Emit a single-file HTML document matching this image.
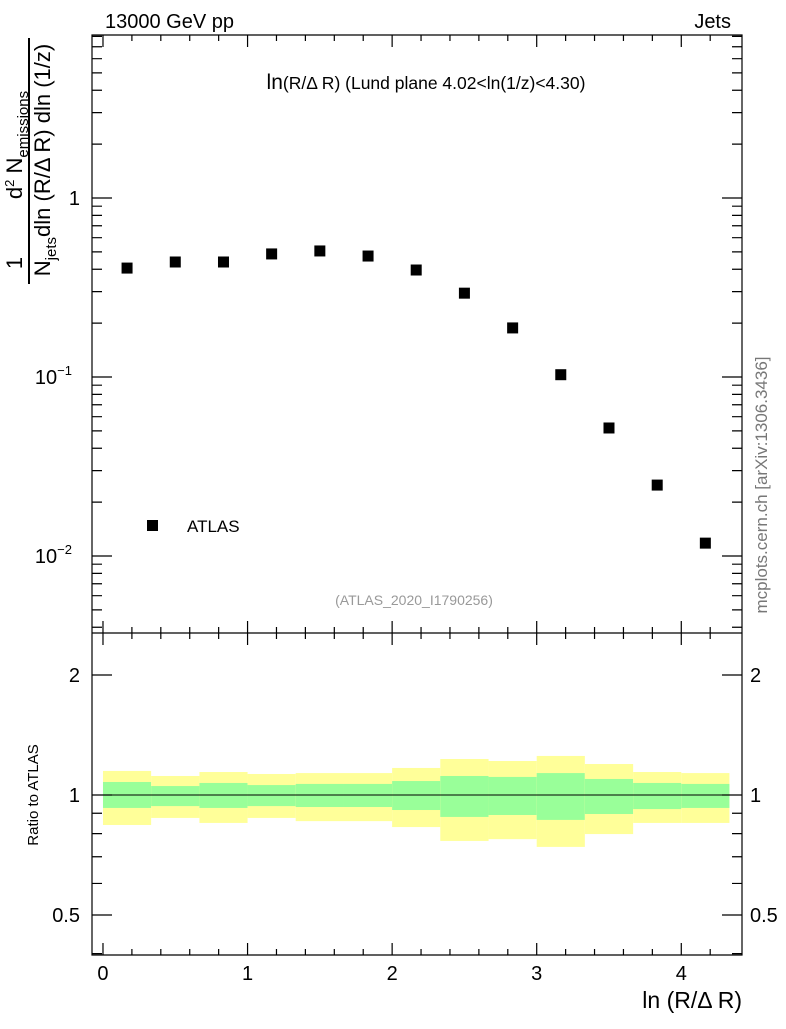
<!DOCTYPE html>
<html><head><meta charset="utf-8"><style>
body{margin:0;background:#fff;}
svg text{font-family:"Liberation Sans",sans-serif;}
</style></head><body>
<svg id="c" width="786" height="1024" xmlns="http://www.w3.org/2000/svg">
<text x="105" y="28" font-size="20">13000 GeV pp</text>
<text x="731" y="28" font-size="20" text-anchor="end">Jets</text>
<text x="426" y="89" font-size="17.5" text-anchor="middle"><tspan font-size="21">ln</tspan>(R/Δ R) (Lund plane 4.02&lt;ln(1/z)&lt;4.30)</text>
<text x="414" y="605" font-size="14" fill="#999" text-anchor="middle">(ATLAS_2020_I1790256)</text>
<text transform="translate(767,485) rotate(-90)" font-size="17" fill="#777" text-anchor="middle">mcplots.cern.ch [arXiv:1306.3436]</text>
<g>
<line x1="29" y1="38" x2="29" y2="284" stroke="#000" stroke-width="2"/>
<text transform="translate(22,263) rotate(-90)" font-size="22" text-anchor="middle">1</text>
<text transform="translate(22,145) rotate(-90)" font-size="22" text-anchor="middle">d<tspan font-size="13" dy="-8">2</tspan><tspan dy="8"> N</tspan><tspan font-size="15" dy="6">emissions</tspan></text>
<text transform="translate(50,160) rotate(-90)" font-size="22" text-anchor="middle">N<tspan font-size="15" dy="6">jets</tspan><tspan dy="-6">dln (R/Δ R) dln (1/z)</tspan></text>
</g>
<text transform="translate(38,795) rotate(-90)" font-size="15" text-anchor="middle">Ratio to ATLAS</text>
<text x="742" y="1008" font-size="23" text-anchor="end">ln (R/Δ R)</text>
<g id="bands"></g>
<g id="marks"></g>
<g id="axes" fill="none" stroke="#000"></g>
<g id="labels"></g>
<g>
<rect x="147" y="520" width="11" height="11" fill="#000"/>
<text x="187" y="532" font-size="17">ATLAS</text>
</g>
</svg>
<script>
const binEdges=[0,0.333,0.667,1,1.333,1.667,2,2.333,2.667,3,3.333,3.667,4,4.333];
const values=[0.406,0.439,0.439,0.487,0.506,0.474,0.396,0.294,0.188,0.103,0.0519,0.0249,0.0118];
const totUp=[1.149,1.116,1.142,1.129,1.135,1.135,1.169,1.231,1.217,1.253,1.196,1.142,1.135];
const totDn=[0.841,0.876,0.851,0.876,0.860,0.860,0.831,0.767,0.775,0.741,0.798,0.851,0.851];
const statUp=[1.078,1.053,1.072,1.059,1.066,1.066,1.084,1.116,1.110,1.135,1.097,1.072,1.066];
const statDn=[0.928,0.938,0.928,0.938,0.933,0.933,0.917,0.881,0.891,0.866,0.896,0.922,0.928];
const xTicks=[0,1,2,3,4];
const mainTicks=[1,0.1,0.01];
const mainTickLabels=["1","10","10"];
const ratioTicks=[0.5,1,2];
const ratioTickLabels=["0.5","1","2"];
const NS="http://www.w3.org/2000/svg";
const X0=92,X1=742,XMIN=-0.076,XMAX=4.42;
const sx=v=>X0+(v-XMIN)/(XMAX-XMIN)*(X1-X0);
const sy=v=>198-179*Math.log10(v);
const sr=v=>795-398.7*Math.log10(v);
function mk(p,tag,a){const e=document.createElementNS(NS,tag);for(const k in a)e.setAttribute(k,a[k]);document.getElementById(p).appendChild(e);return e;}
for(let i=0;i<values.length;i++){
 const xa=sx(binEdges[i]),xb=sx(binEdges[i+1]);
 let e=mk('bands','rect',{x:xa,y:sr(totUp[i]),width:xb-xa,height:sr(totDn[i])-sr(totUp[i]),fill:'#ffff99'});
 
 
 e=mk('bands','rect',{x:xa,y:sr(statUp[i]),width:xb-xa,height:sr(statDn[i])-sr(statUp[i]),fill:'#99ff99'});
 
 
 const xc=(binEdges[i]+binEdges[i+1])/2;
 e=mk('marks','rect',{x:sx(xc)-5.5,y:sy(values[i])-5.5,width:11,height:11,fill:'#000'});
 
 
}
let rl=mk('marks','line',{x1:sx(0),x2:sx(4.333),y1:sr(1),y2:sr(1),stroke:'#000','stroke-width':1});


let a='';
a+=`M${X0} 35H${X1}V633H${X0}Z M${X0} 633V955H${X1}V633`;
for(let v=0;v<=4.4;v+=0.2){const x=sx(v),maj=Math.abs(v-Math.round(v))<1e-6,L=maj?12:6;
 a+=`M${x} 633v${-L}M${x} 35v${L}M${x} 955v${-L}M${x} 633v${L}`;}
for(let d=-3;d<=0;d++)for(let m=1;m<=9;m++){const v=m*Math.pow(10,d);const y=sy(v);if(y<35||y>633)continue;const L=m==1?20:10;a+=`M${X0} ${y}h${L}M${X1} ${y}h${-L}`;}
for(const v of [0.4,0.5,0.6,0.7,0.8,0.9,1,2]){const y=sr(v);const L=(v==0.5||v==1||v==2)?20:10;a+=`M${X0} ${y}h${L}M${X1} ${y}h${-L}`;}
let ax=mk('axes','path',{d:a,'stroke-width':1.2});


xTicks.forEach(v=>{let t=mk('labels','text',{x:sx(v),y:980,'font-size':20,'text-anchor':'middle'});t.textContent=v;
 
 });
mainTicks.forEach((v,i)=>{let t=mk('labels','text',{x:i==0?80:72,y:sy(v)+7,'font-size':20,'text-anchor':'end'});t.textContent=mainTickLabels[i];
 if(i>0){const s=document.createElementNS(NS,'tspan');s.setAttribute('font-size','13');s.setAttribute('dy','-9');s.textContent=(i==1?'−1':'−2');t.appendChild(s);}
 
 });
ratioTicks.forEach((v,i)=>{[[80,'end'],[750,'start']].forEach(([x,an])=>{let t=mk('labels','text',{x:x,y:sr(v)+7,'font-size':20,'text-anchor':an});t.textContent=ratioTickLabels[i];
 
 });});
</script>
</body></html>
